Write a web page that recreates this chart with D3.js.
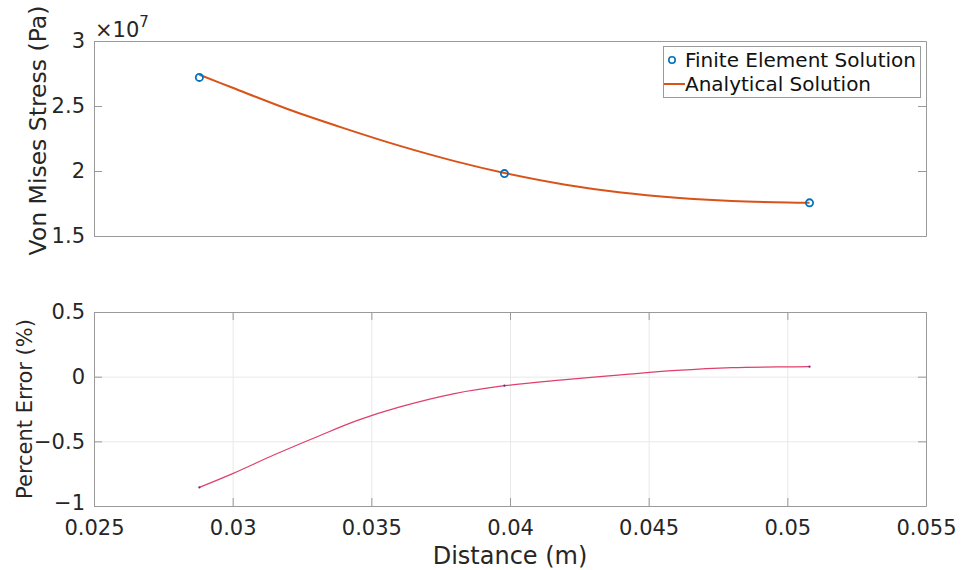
<!DOCTYPE html>
<html>
<head>
<meta charset="utf-8">
<script src="https://cdn.jsdelivr.net/npm/d3@7"></script>
<style>
  html, body { margin: 0; padding: 0; background: #fff; }
  svg { display: block; font-family: "DejaVu Sans", sans-serif; }
</style>
</head>
<body>
<svg id="chart" width="962" height="570"></svg>
<script>
// Finite element nodes (distance in m, von Mises stress in Pa)
const feDistance = [0.0288, 0.0398, 0.0508];
const feStress = [2.72e7, 1.98e7, 1.755e7];

// Analytical solution sampled along the same span
const anDistance = [0.0288, 0.0300, 0.0320, 0.0340, 0.0360, 0.0380, 0.0398, 0.0420, 0.0440, 0.0460, 0.0480, 0.0500, 0.0508];
const anStress = [2.74e7, 2.64e7, 2.475e7, 2.33e7, 2.195e7, 2.076e7, 1.985e7, 1.895e7, 1.835e7, 1.795e7, 1.77e7, 1.758e7, 1.756e7];

// Percent error between the two solutions
const errDistance = [0.0288, 0.0300, 0.0315, 0.0330, 0.0345, 0.0360, 0.0380, 0.0398, 0.0420, 0.0440, 0.0460, 0.0480, 0.0500, 0.0508];
const errPercent = [-0.856, -0.75, -0.604, -0.468, -0.338, -0.236, -0.131, -0.07, -0.023, 0.014, 0.048, 0.07, 0.076, 0.077];

// Axis ticks
const xTicks = [0.025, 0.03, 0.035, 0.04, 0.045, 0.05, 0.055];
const stressTicks = [1.5e7, 2e7, 2.5e7, 3e7];
const errTicks = [-1, -0.5, 0, 0.5];

const svg = d3.select("#chart");
const axisColor = "#9a9a9a";
const textColor = "#262626";
const gridColor = "#e8e8e8";
const tickFont = 21;
const tickLen = 8;

const x = d3.scaleLinear().domain([0.025, 0.055]).range([94, 926]);
const yTop = d3.scaleLinear().domain([1.5e7, 3e7]).range([236, 41]);
const yBot = d3.scaleLinear().domain([-1, 0.5]).range([506, 312]);

function frame(y, yTickVals, withGrid) {
  const g = svg.append("g");
  const [x0, x1] = x.range();
  const [yb, yt] = y.range();
  g.append("rect").attr("x", x0).attr("y", yt).attr("width", x1 - x0).attr("height", yb - yt)
    .attr("fill", "#fff");
  if (withGrid) {
    g.append("g").attr("transform", `translate(0,${yb})`)
      .call(d3.axisBottom(x).tickValues(xTicks).tickSize(-(yb - yt)).tickFormat(""))
      .call(s => s.select(".domain").remove())
      .call(s => s.selectAll("line").attr("stroke", gridColor));
    g.append("g").attr("transform", `translate(${x0},0)`)
      .call(d3.axisLeft(y).tickValues(yTickVals).tickSize(-(x1 - x0)).tickFormat(""))
      .call(s => s.select(".domain").remove())
      .call(s => s.selectAll("line").attr("stroke", gridColor));
  }
  return g;
}

function styleText(sel) {
  sel.selectAll("text").attr("fill", textColor)
    .style("font-size", tickFont + "px")
    .style("font-family", "DejaVu Sans, sans-serif");
}

function border(g, y, yTickVals, yFmt, withXTicks) {
  const [x0, x1] = x.range();
  const [yb, yt] = y.range();
  // ticks point inward on all four sides
  const left = g.append("g").attr("transform", `translate(${x0},0)`)
    .call(d3.axisLeft(y).tickValues(yTickVals).tickSizeInner(-tickLen).tickSizeOuter(0)
      .tickPadding(9).tickFormat(yFmt));
  left.select(".domain").attr("stroke", axisColor);
  left.selectAll("line").attr("stroke", axisColor);
  styleText(left);
  // lowest label sits a touch higher so it clears the x tick labels
  if (withXTicks) {
    left.selectAll(".tick text").filter(d => d === y.domain()[0]).attr("dy", "0.16em");
  }

  const right = g.append("g").attr("transform", `translate(${x1},0)`)
    .call(d3.axisRight(y).tickValues(yTickVals).tickSizeInner(-tickLen).tickSizeOuter(0).tickFormat(""));
  right.select(".domain").attr("stroke", axisColor);
  right.selectAll("line").attr("stroke", axisColor);

  const bottom = g.append("g").attr("transform", `translate(0,${yb})`)
    .call(d3.axisBottom(x).tickValues(withXTicks ? xTicks : []).tickSizeInner(-tickLen).tickSizeOuter(0)
      .tickPadding(14).tickFormat(d3.format("~g")));
  bottom.select(".domain").attr("stroke", axisColor);
  bottom.selectAll("line").attr("stroke", axisColor);
  styleText(bottom);

  const top = g.append("g").attr("transform", `translate(0,${yt})`)
    .call(d3.axisTop(x).tickValues(withXTicks ? xTicks : []).tickSizeInner(-tickLen).tickSizeOuter(0).tickFormat(""));
  top.select(".domain").attr("stroke", axisColor);
  top.selectAll("line").attr("stroke", axisColor);
}

// ---------- upper panel: stress ----------
const gTop = frame(yTop, stressTicks, false);

const stressLine = d3.line()
  .x((d, i) => x(anDistance[i]))
  .y(d => yTop(d))
  .curve(d3.curveCatmullRom.alpha(0.5));

gTop.append("path").datum(anStress)
  .attr("d", stressLine)
  .attr("fill", "none")
  .attr("stroke", "#D95319")
  .attr("stroke-width", 2);

gTop.selectAll("circle.fe").data(feStress).join("circle")
  .attr("class", "fe")
  .attr("cx", (d, i) => x(feDistance[i]))
  .attr("cy", d => yTop(d))
  .attr("r", 3.6)
  .attr("fill", "none")
  .attr("stroke", "#0072BD")
  .attr("stroke-width", 1.8);

border(gTop, yTop, stressTicks, d => d3.format("~g")(d / 1e7), false);

// exponent label above the axis
const expo = svg.append("text").attr("x", 95).attr("y", 37)
  .attr("fill", textColor).style("font-size", tickFont + "px");
expo.append("tspan").text("\u00d710");
expo.append("tspan").attr("dy", -10).style("font-size", "15px").text("7");

// legend
const leg = svg.append("g");
leg.append("rect").attr("x", 663.5).attr("y", 46.5).attr("width", 257).attr("height", 51)
  .attr("fill", "#fff").attr("stroke", axisColor).attr("stroke-width", 1);
leg.append("circle").attr("cx", 672).attr("cy", 60).attr("r", 3.2)
  .attr("fill", "none").attr("stroke", "#0072BD").attr("stroke-width", 1.6);
leg.append("text").attr("x", 685).attr("y", 67).attr("fill", "#111")
  .style("font-size", "20px").text("Finite Element Solution");
leg.append("line").attr("x1", 664).attr("x2", 685).attr("y1", 84).attr("y2", 84)
  .attr("stroke", "#D95319").attr("stroke-width", 2);
leg.append("text").attr("x", 685).attr("y", 91).attr("fill", "#111")
  .style("font-size", "20px").text("Analytical Solution");

svg.append("text")
  .attr("transform", `translate(46,${(41 + 236) / 2 - 8}) rotate(-90)`)
  .attr("text-anchor", "middle").attr("fill", textColor)
  .style("font-size", "23.5px")
  .text("Von Mises Stress (Pa)");

// ---------- lower panel: percent error ----------
const gBot = frame(yBot, errTicks, true);

const errLine = d3.line()
  .x((d, i) => x(errDistance[i]))
  .y(d => yBot(d))
  .curve(d3.curveCatmullRom.alpha(0.5));

gBot.append("path").datum(errPercent)
  .attr("d", errLine)
  .attr("fill", "none")
  .attr("stroke", "#df3f6c")
  .attr("stroke-width", 1.2);

// error at the finite element nodes
const nodeErr = feDistance.map(d => errPercent[errDistance.indexOf(d)]);
gBot.selectAll("circle.node").data(nodeErr).join("circle")
  .attr("class", "node")
  .attr("cx", (d, i) => x(feDistance[i]))
  .attr("cy", d => yBot(d))
  .attr("r", 1.1)
  .attr("fill", "#6a2a8a");

border(gBot, yBot, errTicks, d3.format("~g"), true);

svg.append("text")
  .attr("transform", `translate(32,${(312 + 506) / 2}) rotate(-90)`)
  .attr("text-anchor", "middle").attr("fill", textColor)
  .style("font-size", "21px")
  .text("Percent Error (%)");

svg.append("text")
  .attr("x", (94 + 926) / 2).attr("y", 564)
  .attr("text-anchor", "middle").attr("fill", textColor)
  .style("font-size", "24px")
  .text("Distance (m)");
</script>
</body>
</html>
